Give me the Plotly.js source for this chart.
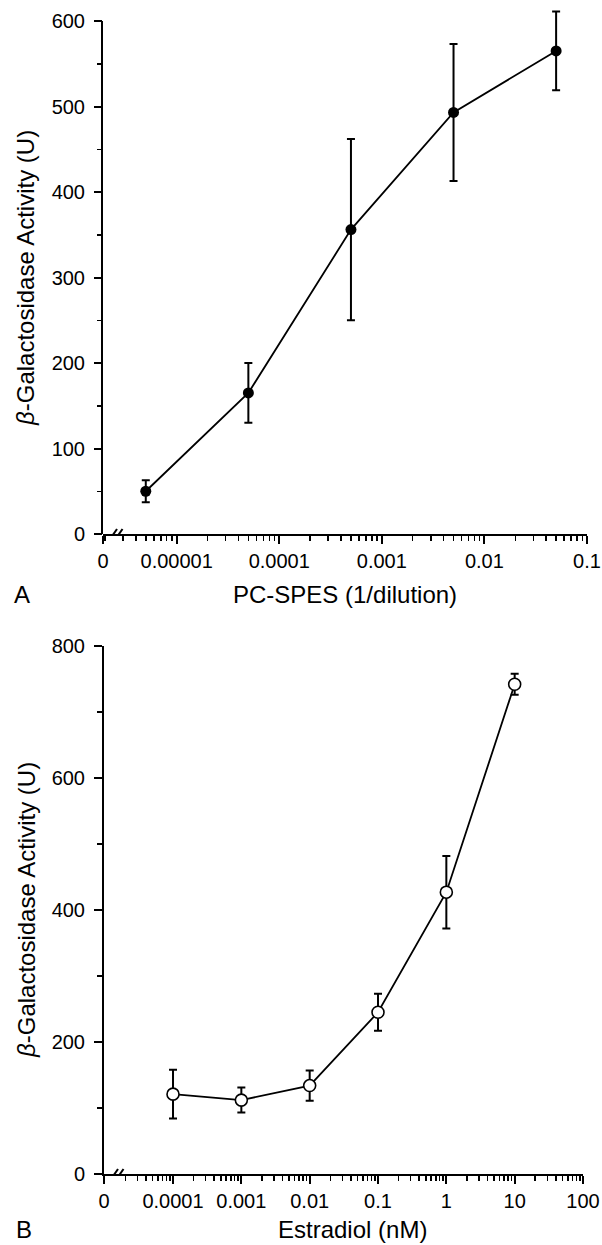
<!DOCTYPE html>
<html>
<head>
<meta charset="utf-8">
<script src="https://cdn.plot.ly/plotly-3.0.1.min.js"></script>
<style>html,body{margin:0;padding:0;background:#fff;}#chart{width:602px;height:1245px;}</style>
</head>
<body>
<div id="chart"></div>
<script>
// Panel A data
const aDilution = [0.000005, 0.00005, 0.0005, 0.005, 0.05];
const aActivity = [50, 165, 356, 493, 565];
const aError = [13, 35, 106, 80, 46];
const aTickLabels = ['0', '0.00001', '0.0001', '0.001', '0.01', '0.1'];
const aTickValues = [Math.pow(10, -5.718), 1e-5, 1e-4, 1e-3, 1e-2, 1e-1];

// Panel B data
const bEstradiol = [0.0001, 0.001, 0.01, 0.1, 1, 10];
const bActivity = [121, 112, 134, 245, 427, 742];
const bError = [37, 19, 23, 28, 55, 16];
const bTickLabels = ['0', '0.0001', '0.001', '0.01', '0.1', '1', '10', '100'];
const bTickValues = [Math.pow(10, -5.01), 1e-4, 1e-3, 1e-2, 1e-1, 1, 10, 100];

function minorVals(lo, hi) {
  const out = [];
  for (let e = lo; e < hi; e++) {
    for (let m = 2; m <= 9; m++) out.push(m * Math.pow(10, e));
  }
  return out;
}

const FONT = 'Liberation Sans, Arial, sans-serif';
const TICK = 20, TITLE = 24;
const ML = 103, MR = 15, MT = 0, MB = 71, FW = 602, FH = 1245;
const PW = FW - ML - MR, PH = FH - MT - MB;
const px = x => (x - ML) / PW;
const py = y => (FH - MB - y) / PH;

const traces = [
  {
    x: aDilution, y: aActivity, xaxis: 'x', yaxis: 'y',
    type: 'scatter', mode: 'lines+markers', cliponaxis: false,
    line: {color: '#000', width: 1.8},
    marker: {color: '#000', size: 11, symbol: 'circle'},
    error_y: {type: 'data', array: aError, visible: true, thickness: 2, width: 4, color: '#000'},
    showlegend: false, hoverinfo: 'skip'
  },
  {
    x: bEstradiol, y: bActivity, xaxis: 'x2', yaxis: 'y2',
    type: 'scatter', mode: 'lines+markers', cliponaxis: false,
    line: {color: '#000', width: 1.8},
    marker: {color: '#fff', size: 12, symbol: 'circle', line: {color: '#000', width: 1.6}},
    error_y: {type: 'data', array: bError, visible: true, thickness: 2, width: 4, color: '#000'},
    showlegend: false, hoverinfo: 'skip'
  }
];

const axisCommon = {
  showgrid: false, zeroline: false, showline: true, linecolor: '#000', linewidth: 2,
  ticks: 'outside', ticklen: 8, tickwidth: 2, tickcolor: '#000',
  tickfont: {family: FONT, size: TICK, color: '#000'}, fixedrange: true
};

function slash(xa, ya, off) {
  return {type: 'line', xref: xa + ' domain', yref: ya, xsizemode: 'pixel', ysizemode: 'pixel',
    xanchor: 0, yanchor: 0, x0: off, x1: off + 9, y0: -8, y1: 5,
    line: {color: '#000', width: 2}, layer: 'above'};
}
function gap(xa, ya) {
  return {type: 'rect', xref: xa + ' domain', yref: ya, xsizemode: 'pixel', ysizemode: 'pixel',
    xanchor: 0, yanchor: 0, x0: 10, x1: 17, y0: -1.5, y1: 1.5,
    fillcolor: '#fff', line: {width: 0}, layer: 'above'};
}
function yline(xa, ya, top) {
  return {type: 'line', xref: xa + ' domain', yref: ya, xsizemode: 'pixel', xanchor: 0,
    x0: -1, x1: -1, y0: 0, y1: top, line: {color: '#000', width: 2}, layer: 'above'};
}

const layout = {
  width: FW, height: FH,
  margin: {l: ML, r: MR, t: MT, b: MB},
  paper_bgcolor: '#fff', plot_bgcolor: '#fff',
  font: {family: FONT, color: '#000'},
  xaxis: Object.assign({}, axisCommon, {
    type: 'log', domain: [0, 1], anchor: 'y',
    range: [Math.log10(aTickValues[0]) - 1e-6, -1 + 1e-6],
    tickmode: 'array', tickvals: aTickValues, ticktext: aTickLabels,
    minor: {tickmode: 'array', tickvals: minorVals(-6, -1).filter(v => v > aTickValues[0]), ticks: 'outside', ticklen: 5, tickwidth: 1.5, tickcolor: '#000'}
  }),
  yaxis: Object.assign({}, axisCommon, {
    domain: [py(534), py(534 - 620 * 513 / 600)], anchor: 'x', range: [0, 620], showline: false,
    tickmode: 'linear', tick0: 0, dtick: 100, ticklabelstandoff: 5,
    minor: {dtick: 50, ticks: 'outside', ticklen: 5, tickwidth: 1.5, tickcolor: '#000'}
  }),
  xaxis2: Object.assign({}, axisCommon, {
    type: 'log', domain: [px(104), px(583)], anchor: 'y2',
    range: [Math.log10(bTickValues[0]) - 1e-6, 2 + 1e-6],
    tickmode: 'array', tickvals: bTickValues, ticktext: bTickLabels,
    minor: {tickmode: 'array', tickvals: minorVals(-6, 2).filter(v => v > bTickValues[0]), ticks: 'outside', ticklen: 5, tickwidth: 1.5, tickcolor: '#000'}
  }),
  yaxis2: Object.assign({}, axisCommon, {
    domain: [0, py(646)], anchor: 'x2', range: [0, 800],
    tickmode: 'linear', tick0: 0, dtick: 200, ticklabelstandoff: 5,
    minor: {dtick: 100, ticks: 'outside', ticklen: 5, tickwidth: 1.5, tickcolor: '#000'}
  }),
  shapes: [
    yline('x', 'y', 600),
    gap('x', 'y'), slash('x', 'y', 5), slash('x', 'y', 10.5),
    gap('x2', 'y2'), slash('x2', 'y2', 5), slash('x2', 'y2', 10.5)
  ],
  annotations: [
    {text: 'PC-SPES (1/dilution)', x: px(345), y: py(594)},
    {text: 'A', x: px(22), y: py(594)},
    {text: 'Estradiol (nM)', x: px(352), y: py(1229)},
    {text: 'B', x: px(24), y: py(1229)},
    {text: '<i>β</i>-Galactosidase Activity (U)', x: px(26), y: py(278), textangle: -90},
    {text: '<i>β</i>-Galactosidase Activity (U)', x: px(26), y: py(910), textangle: -90}
  ].map(a => Object.assign({xref: 'paper', yref: 'paper', xanchor: 'center', yanchor: 'middle',
    showarrow: false, font: {family: FONT, size: TITLE, color: '#000'}}, a))
};

Plotly.newPlot('chart', traces, layout, {displayModeBar: false, staticPlot: true});
</script>
</body>
</html>
